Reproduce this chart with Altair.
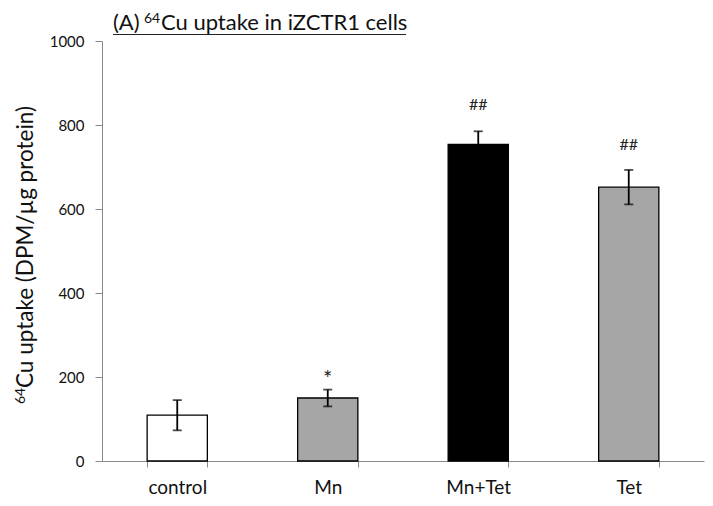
import altair as alt
import pandas as pd

categories = ["control", "Mn", "Mn+Tet", "Tet"]
means = [109, 150, 754, 652]
errors = [36, 20, 31, 41]
marks = ["", "*", "##", "##"]
mark_y = [None, 196, 848, 752]
y_ticks = [0, 200, 400, 600, 800, 1000]

bar_colors = ["#ffffff", "#a6a6a6", "#000000", "#a6a6a6"]

df = pd.DataFrame({
    "cat": categories,
    "mean": means,
    "err": errors,
    "sig": marks,
    "sig_y": mark_y,
})
df["lo"] = df["mean"] - df["err"]
df["hi"] = df["mean"] + df["err"]

FONT = "Lato"
TXT = "#111111"

x = alt.X("cat:N", sort=categories, title=None,
          scale=alt.Scale(paddingInner=0.6, paddingOuter=0.3),
          axis=alt.Axis(labelAngle=0, labelFontSize=19, labelColor=TXT,
                        labelFont=FONT, tickBand="extent", tickSize=6,
                        tickColor="#888888", domainColor="#888888",
                        labelPadding=11))
y = alt.Y("mean:Q", title=None,
          scale=alt.Scale(domain=[0, 1000], nice=False),
          axis=alt.Axis(values=y_ticks, grid=False, format="d",
                        labelFontSize=15, labelColor=TXT, labelFont=FONT,
                        tickSize=7, tickColor="#888888", domainColor="#888888",
                        labelPadding=11))

base = alt.Chart(df)

bars = base.mark_bar(stroke="#000000", strokeWidth=1.3).encode(
    x=x, y=y,
    fill=alt.Fill("cat:N", scale=alt.Scale(domain=categories, range=bar_colors), legend=None),
)

xc = alt.X("cat:N", sort=categories)
rules = base.mark_rule(color="#000000", strokeWidth=1.8).encode(x=xc, y="lo:Q", y2="hi:Q")
caps_lo = base.mark_tick(orient="horizontal", size=9, thickness=1.8, color="#000000").encode(x=xc, y="lo:Q")
caps_hi = base.mark_tick(orient="horizontal", size=9, thickness=1.8, color="#000000").encode(x=xc, y="hi:Q")

sig_hash = base.transform_filter("datum.sig == '##'").mark_text(
    fontSize=16, font=FONT, color="#222222", baseline="middle").encode(
    x=xc, y="sig_y:Q", text="sig:N")
sig_star = base.transform_filter("datum.sig == '*'").mark_text(
    fontSize=22, font=FONT, color="#222222", baseline="middle").encode(
    x=xc, y="sig_y:Q", text="sig:N")

# chart title with a real superscript, underlined
t1 = alt.Chart(pd.DataFrame({"t": ["(A)"]})).mark_text(
    fontSize=22, font=FONT, color=TXT, align="left", baseline="alphabetic").encode(
    x=alt.value(11), y=alt.value(-11), text="t:N")
t2 = alt.Chart(pd.DataFrame({"t": ["64"]})).mark_text(
    fontSize=14, font=FONT, color=TXT, align="left", baseline="alphabetic").encode(
    x=alt.value(42), y=alt.value(-18), text="t:N")
t3 = alt.Chart(pd.DataFrame({"t": ["Cu uptake in iZCTR1 cells"]})).mark_text(
    fontSize=22, font=FONT, color=TXT, align="left", baseline="alphabetic").encode(
    x=alt.value(59), y=alt.value(-11), text="t:N")
underline = alt.Chart(pd.DataFrame({"a": [0]})).mark_rule(color="#222222", strokeWidth=1.2).encode(
    x=alt.value(11), x2=alt.value(304), y=alt.value(-6.5))

# y axis title with a real superscript
yt_main = alt.Chart(pd.DataFrame({"t": ["Cu uptake (DPM/µg protein)"]})).mark_text(
    fontSize=22.5, font=FONT, color=TXT, align="left", baseline="alphabetic", angle=270).encode(
    x=alt.value(-69), y=alt.value(347), text="t:N")
yt_sup = alt.Chart(pd.DataFrame({"t": ["64"]})).mark_text(
    fontSize=14, font=FONT, color=TXT, align="left", baseline="alphabetic", angle=270).encode(
    x=alt.value(-77), y=alt.value(363), text="t:N")

chart = alt.layer(bars, rules, caps_lo, caps_hi, sig_hash, sig_star, t1, t2, t3, underline,
                  yt_main, yt_sup).properties(
    width=602, height=420,
    autosize=alt.AutoSizeParams(type="none"),
    padding={"left": 94, "top": 33, "right": 1, "bottom": 36},
).configure_view(stroke=None).configure_axis(domainWidth=1)

chart.save("out.html", embed_options={"renderer": "svg", "actions": False})
